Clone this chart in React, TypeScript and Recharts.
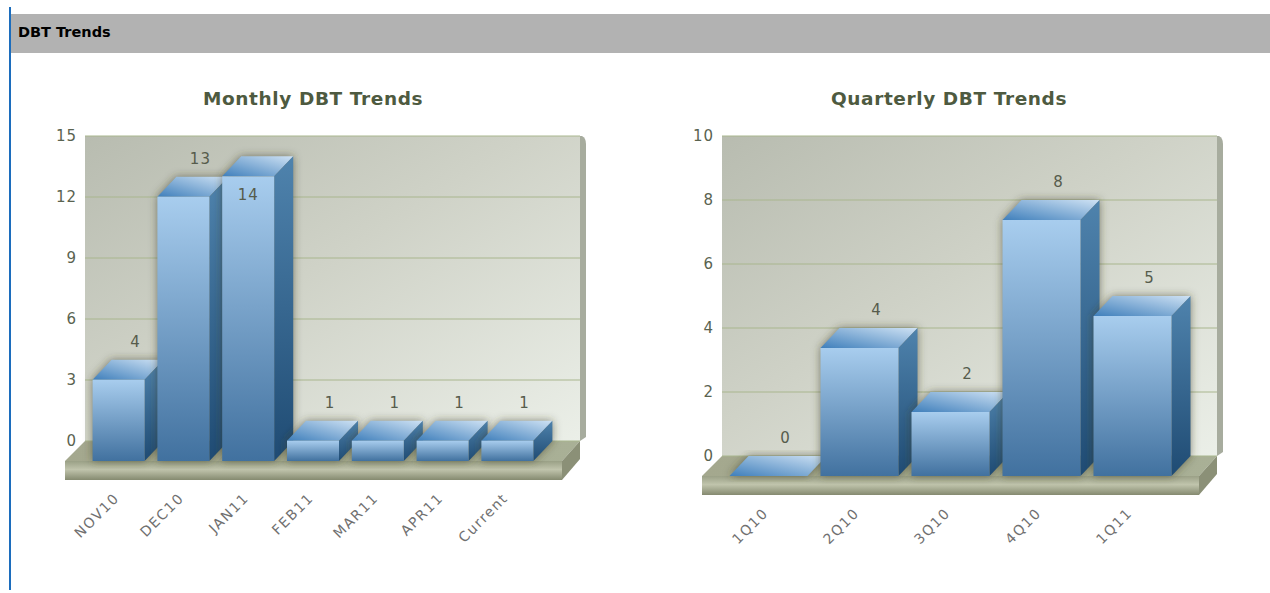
import { Bar, BarChart, CartesianGrid, LabelList, XAxis, YAxis } from 'recharts';

const monthlyCategories = ['NOV10', 'DEC10', 'JAN11', 'FEB11', 'MAR11', 'APR11', 'Current'];
const monthlyValues = [4, 13, 14, 1, 1, 1, 1];
const monthlyTicks = [0, 3, 6, 9, 12, 15];

const quarterlyCategories = ['1Q10', '2Q10', '3Q10', '4Q10', '1Q11'];
const quarterlyValues = [0, 4, 2, 8, 5];
const quarterlyTicks = [0, 2, 4, 6, 8, 10];

const CHART_W = 635;
const CHART_H = 593;
const WALL_TOP = 136;
const WALL_W = 495;
const AXIS_W = 60;
const MARGIN_LEFT = 25;
// depth of the fake 3D extrusion
const DX = 19;
const DY = 20;
const FONT = '"DejaVu Sans", sans-serif';

function Bar3D({ x, y, width, height }: any) {
  const fx = x - DX;
  const fy = y + DY;
  const outline = `${fx},${fy} ${x},${y} ${x + width},${y} ${x + width},${y + height} ${fx + width},${fy + height} ${fx},${fy + height}`;
  return (
    <g>
      <polygon points={outline} fill="#3d3b26" fillOpacity={0.6} filter="url(#barShadow)" />
      <polygon
        points={`${fx},${fy} ${x},${y} ${x + width},${y} ${fx + width},${fy}`}
        fill="url(#barTop)"
      />
      <polygon
        points={`${fx + width},${fy} ${x + width},${y} ${x + width},${y + height} ${fx + width},${fy + height}`}
        fill="url(#barSide)"
      />
      <rect x={fx} y={fy} width={width} height={height} fill="url(#barFront)" />
    </g>
  );
}

function ValueLabel({ x, y, width, value }: any) {
  // no room above the bar near the top of the wall: the label drops onto the front face
  const inside = y - 18 < WALL_TOP + 10;
  return (
    <text
      x={inside ? x + width / 2 - DX : x + width / 2 - 2}
      y={inside ? y + 38 : y - 18}
      dy="0.36em"
      textAnchor="middle"
      fontFamily={FONT}
      fontSize={15}
      letterSpacing={1}
      fill="#565c4c"
    >
      {value}
    </text>
  );
}

function SlantedTick({ x, y, payload }: any) {
  return (
    <text
      transform={`translate(${x - DX + 1},${y}) rotate(-45)`}
      textAnchor="end"
      fontFamily={FONT}
      fontSize={14}
      letterSpacing={1.5}
      fill="#707070"
    >
      {payload.value}
    </text>
  );
}

// wall and floor sit behind the transparent chart
function Backdrop({ left, base }: { left: number; base: number }) {
  const wx = left + MARGIN_LEFT + AXIS_W;
  const wr = wx + WALL_W;
  const fl = wx - 20;
  const fr = wr - 18;
  const fy = base + 20;
  return (
    <svg
      width={CHART_W}
      height={CHART_H}
      viewBox={`${left} 0 ${CHART_W} ${CHART_H}`}
      style={{ position: 'absolute', left, top: 0 }}
    >
      <path
        d={`M${wr - 2},${WALL_TOP} L${wr + 2},${WALL_TOP} Q${wr + 6},${WALL_TOP + 2} ${wr + 6},${WALL_TOP + 8} L${wr + 6},${base - 4} L${wr},${base} Z`}
        fill="#a7ac9e"
      />
      <rect x={wx} y={WALL_TOP} width={WALL_W} height={base - WALL_TOP} fill="url(#wallFill)" />
      <polygon points={`${fl},${fy} ${wx},${base} ${wr},${base} ${fr},${fy}`} fill="url(#floorTop)" />
      <polygon points={`${fr},${fy} ${wr},${base} ${wr},${base + 18} ${fr},${fy + 19}`} fill="#8b9077" />
      <rect x={fl} y={fy} width={fr - fl} height={19} fill="url(#floorFront)" />
    </svg>
  );
}

function SharedDefs() {
  return (
    <svg width={0} height={0} style={{ position: 'absolute' }}>
      <defs>
        <linearGradient id="wallFill" x1="0" y1="0" x2="1" y2="1">
          <stop offset="0%" stopColor="#b8bcb0" />
          <stop offset="45%" stopColor="#cfd2c7" />
          <stop offset="100%" stopColor="#ebefe8" />
        </linearGradient>
        <linearGradient id="floorTop" x1="0" y1="0" x2="1" y2="0">
          <stop offset="0%" stopColor="#a4a88e" />
          <stop offset="100%" stopColor="#a9b096" />
        </linearGradient>
        <linearGradient id="floorFront" x1="0" y1="0" x2="0" y2="1">
          <stop offset="0%" stopColor="#9aa086" />
          <stop offset="45%" stopColor="#c0c4ac" />
          <stop offset="100%" stopColor="#858a70" />
        </linearGradient>
        <linearGradient id="barFront" x1="0" y1="0" x2="0" y2="1">
          <stop offset="0%" stopColor="#a8cdee" />
          <stop offset="100%" stopColor="#41719f" />
        </linearGradient>
        <linearGradient id="barSide" x1="0" y1="0" x2="0" y2="1">
          <stop offset="0%" stopColor="#4f83ad" />
          <stop offset="100%" stopColor="#1f4b73" />
        </linearGradient>
        <linearGradient id="barTop" x1="0" y1="1" x2="1" y2="0">
          <stop offset="0%" stopColor="#3f7fbb" />
          <stop offset="100%" stopColor="#cfe2f4" />
        </linearGradient>
        <filter id="barShadow" x="-30%" y="-30%" width="160%" height="160%">
          <feGaussianBlur stdDeviation="4" />
        </filter>
      </defs>
    </svg>
  );
}

function TrendChart({
  title,
  categories,
  values,
  ticks,
  left,
  base,
  barSize,
  pad,
  titleX,
}: {
  title: string;
  categories: string[];
  values: number[];
  ticks: number[];
  left: number;
  base: number;
  barSize: number;
  pad: [number, number];
  titleX: number;
}) {
  const rows = categories.map((name, i) => ({ name, value: values[i] }));
  return (
    <>
      <Backdrop left={left} base={base} />
      <div
        style={{
          position: 'absolute',
          left: titleX,
          top: 88,
          font: `bold 18.5px ${FONT}`,
          letterSpacing: 0.6,
          color: '#4e5a40',
          whiteSpace: 'nowrap',
        }}
      >
        {title}
      </div>
      <div style={{ position: 'absolute', left, top: 0 }}>
        <BarChart
          width={CHART_W}
          height={CHART_H}
          data={rows}
          barSize={barSize}
          margin={{ top: WALL_TOP, right: CHART_W - MARGIN_LEFT - AXIS_W - WALL_W, left: MARGIN_LEFT, bottom: CHART_H - base - 80 }}
        >
          <CartesianGrid vertical={false} stroke="#a9b68e" strokeWidth={1} />
          <XAxis
            dataKey="name"
            height={80}
            interval={0}
            padding={{ left: pad[0], right: pad[1] }}
            axisLine={false}
            tickLine={false}
            tick={<SlantedTick />}
            tickMargin={52}
          />
          <YAxis
            width={AXIS_W}
            domain={[0, ticks[ticks.length - 1]]}
            ticks={ticks}
            interval={0}
            axisLine={false}
            tickLine={false}
            tickMargin={2}
            tick={{ fill: '#5a6350', fontSize: 15, fontFamily: FONT, letterSpacing: 1 }}
          />
          <Bar dataKey="value" shape={<Bar3D />} isAnimationActive={false}>
            <LabelList dataKey="value" content={<ValueLabel />} />
          </Bar>
        </BarChart>
      </div>
    </>
  );
}

export default function App() {
  return (
    <div
      style={{
        position: 'absolute',
        left: 0,
        top: 0,
        width: 1270,
        height: 593,
        background: '#fff',
        overflow: 'hidden',
      }}
    >
      <SharedDefs />
      <div style={{ position: 'absolute', left: 10, top: 14, width: 1260, height: 39, background: '#b2b2b2' }} />
      <div style={{ position: 'absolute', left: 9, top: 7, width: 2, height: 583, background: '#1c6dbd' }} />
      <div
        style={{
          position: 'absolute',
          left: 18,
          top: 24,
          font: `bold 14.5px ${FONT}`,
          color: '#000',
        }}
      >
        DBT Trends
      </div>
      <TrendChart
        title="Monthly DBT Trends"
        categories={monthlyCategories}
        values={monthlyValues}
        ticks={monthlyTicks}
        left={0}
        base={441}
        barSize={52}
        pad={[20.6, 20.8]}
        titleX={203}
      />
      <TrendChart
        title="Quarterly DBT Trends"
        categories={quarterlyCategories}
        values={quarterlyValues}
        ticks={quarterlyTicks}
        left={637}
        base={456}
        barSize={78}
        pad={[19.5, 20.5]}
        titleX={831}
      />
    </div>
  );
}
